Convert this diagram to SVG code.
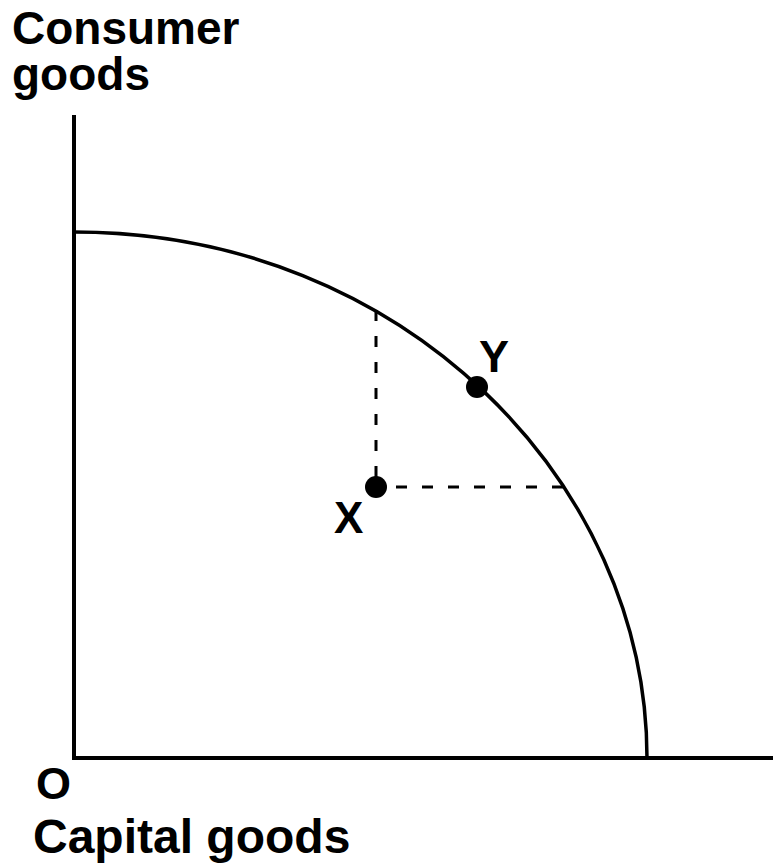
<svg xmlns="http://www.w3.org/2000/svg" width="773" height="866" viewBox="0 0 773 866">
<style>
.lbl{font-family:"Liberation Sans",Arial,sans-serif;font-weight:bold;fill:#000}
.ax{stroke:#000;stroke-width:4;fill:none}
.cv{stroke:#000;stroke-width:3.5;fill:none}
.dash{stroke:#000;stroke-width:3;stroke-dasharray:11 15;fill:none}
</style>
<rect width="773" height="866" fill="#fff"/>
<g id="axes">
<path class="ax" d="M74 115 V758 H773"/>
</g>
<g id="connectors">
<path class="cv" d="M74 232 C404 232 647 483 647 758"/>
<path class="dash" d="M376 310 V487"/>
<path class="dash" d="M563 487 H376"/>
</g>
<g id="point-X">
<circle cx="376" cy="487" r="11" fill="#000"/>
<text class="lbl" x="334" y="533" font-size="44">X</text>
</g>
<g id="point-Y">
<circle cx="477" cy="387" r="11" fill="#000"/>
<text class="lbl" x="479" y="372" font-size="45">Y</text>
</g>
<g id="labels">
<text class="lbl" x="12" y="44" font-size="46">Consumer</text>
<text class="lbl" x="12" y="90" font-size="46">goods</text>
<text class="lbl" x="36" y="799" font-size="45">O</text>
<text class="lbl" x="33" y="853" font-size="48">Capital goods</text>
</g>
</svg>
